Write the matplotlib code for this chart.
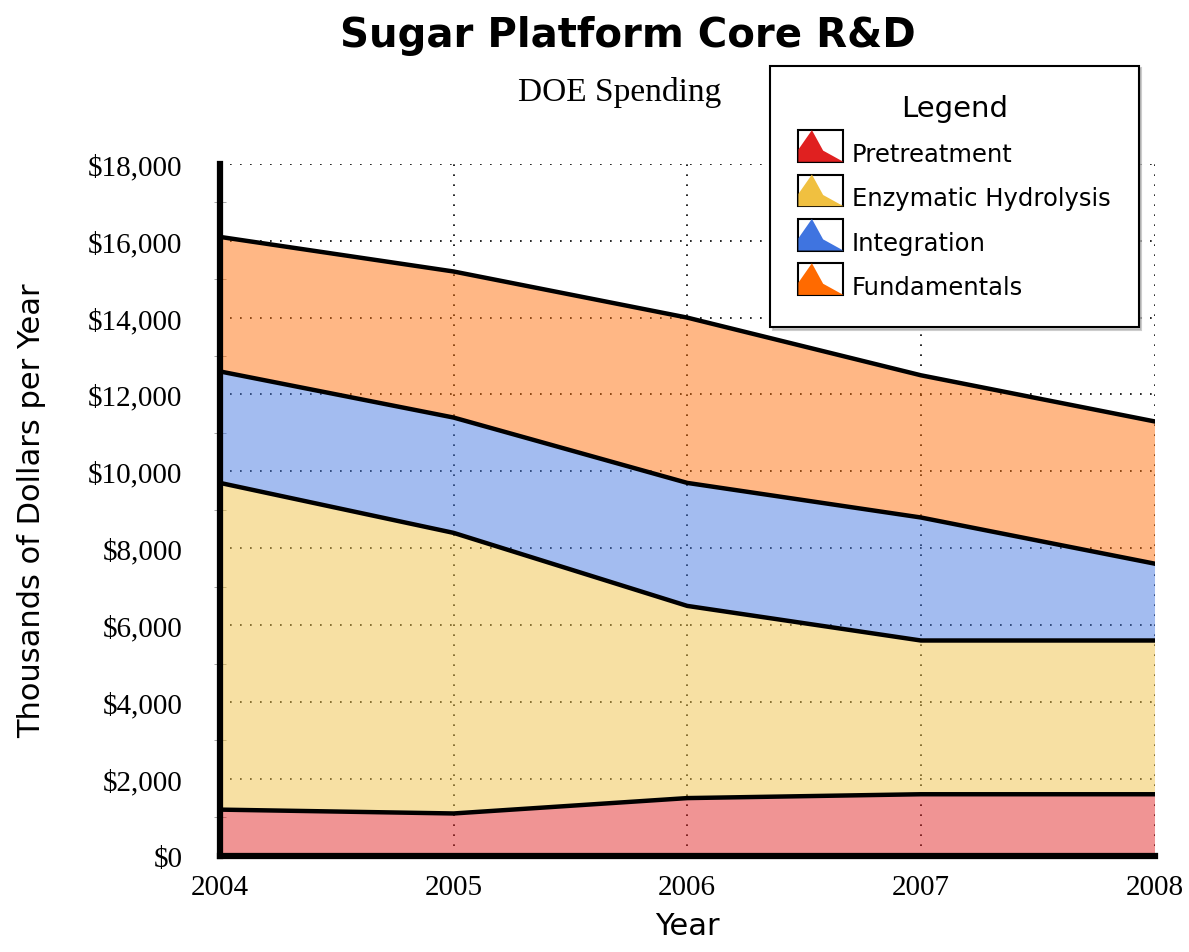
import matplotlib
matplotlib.use("Agg")
import matplotlib.pyplot as plt
import numpy as np
from matplotlib.patches import Rectangle, Polygon
from matplotlib.legend_handler import HandlerBase
from matplotlib.ticker import FuncFormatter, MultipleLocator

years = [2004, 2005, 2006, 2007, 2008]
pretreatment = [1200, 1100, 1500, 1600, 1600]
enzymatic = [8500, 7300, 5000, 4000, 4000]
integration = [2900, 3000, 3200, 3200, 2000]
fundamentals = [3500, 3800, 4300, 3700, 3700]

labels = ["Pretreatment", "Enzymatic Hydrolysis", "Integration", "Fundamentals"]
colors = ["#e02020", "#f0c040", "#3f74e0", "#ff6a00"]
series = [pretreatment, enzymatic, integration, fundamentals]


class AreaHandler(HandlerBase):
    # little box with an area-shaped glyph, like the original legend
    def __init__(self, color):
        super().__init__()
        self.color = color

    def create_artists(self, legend, orig, xd, yd, w, h, fontsize, trans):
        box = Rectangle((xd, yd - 3), w, h + 6, facecolor="white",
                        edgecolor="black", lw=1.5, transform=trans)
        pts = [(xd, yd - 3), (xd, yd + h * 0.35), (xd + w * 0.3, yd + h + 3),
               (xd + w * 0.55, yd + h * 0.3), (xd + w, yd - 3)]
        tri = Polygon(pts, closed=True, facecolor=self.color,
                      edgecolor="none", transform=trans)
        return [box, tri]


fig = plt.figure(figsize=(11.89, 9.53), dpi=100)
ax = fig.add_axes([0.185, 0.101, 0.786, 0.726])

x = np.array(years)
bottom = np.zeros(len(years))
for vals, c in zip(series, colors):
    top = bottom + np.array(vals)
    ax.fill_between(x, bottom, top, color=c, alpha=0.48, lw=0, zorder=3)
    ax.plot(x, top, color="black", lw=3.2, zorder=4, solid_joinstyle="round")
    bottom = top

ax.set_xlim(2004, 2008)
ax.set_ylim(0, 18000)
ax.set_xticks(years)
ax.yaxis.set_major_locator(MultipleLocator(2000))
ax.yaxis.set_minor_locator(MultipleLocator(1000))
ax.yaxis.set_major_formatter(FuncFormatter(lambda v, p: "${:,.0f}".format(v)))
ax.grid(True, which="major", color="black", linestyle=(0, (1, 5)), lw=1.2, zorder=1)
ax.set_axisbelow(True)

for s in ["top", "right"]:
    ax.spines[s].set_visible(False)
ax.spines["left"].set_linewidth(4.5)
ax.spines["bottom"].set_linewidth(4.5)
ax.spines["left"].set_zorder(6)
ax.spines["bottom"].set_zorder(6)

ax.tick_params(axis="both", which="major", length=0,
               labelsize=21, labelfontfamily="Liberation Serif")
ax.tick_params(axis="y", which="major", pad=27)
ax.tick_params(axis="y", which="minor", length=8, color="#999999", direction="inout")
ax.tick_params(axis="x", pad=13)

ax.set_xlabel("Year", fontsize=22, family="DejaVu Sans", labelpad=8)
ax.set_ylabel("Thousands of Dollars per Year", fontsize=22, family="DejaVu Sans", labelpad=30)

fig.text(0.528, 0.962, "Sugar Platform Core R&D", ha="center", va="center",
         fontsize=29, fontweight="bold", family="DejaVu Sans")
fig.text(0.521, 0.903, "DOE Spending", ha="center", va="center",
         fontsize=24, family="Liberation Serif")

handles = [Rectangle((0, 0), 1, 1, color=c) for c in colors]
leg = fig.legend(handles, labels, title="Legend", loc="upper left",
                 bbox_to_anchor=(0.648, 0.93), frameon=True, fancybox=False,
                 shadow={"color": "#aaaaaa", "alpha": 0.6}, fontsize=17.5, title_fontsize=21,
                 handler_map={h: AreaHandler(c) for h, c in zip(handles, colors)},
                 handlelength=1.85, handleheight=1.1, borderpad=1.15,
                 labelspacing=0.8, handletextpad=0.35, borderaxespad=0)
leg.get_frame().set_edgecolor("black")
leg.get_frame().set_linewidth(1.5)
leg.set_zorder(10)

fig.savefig("out.png", dpi=100)
